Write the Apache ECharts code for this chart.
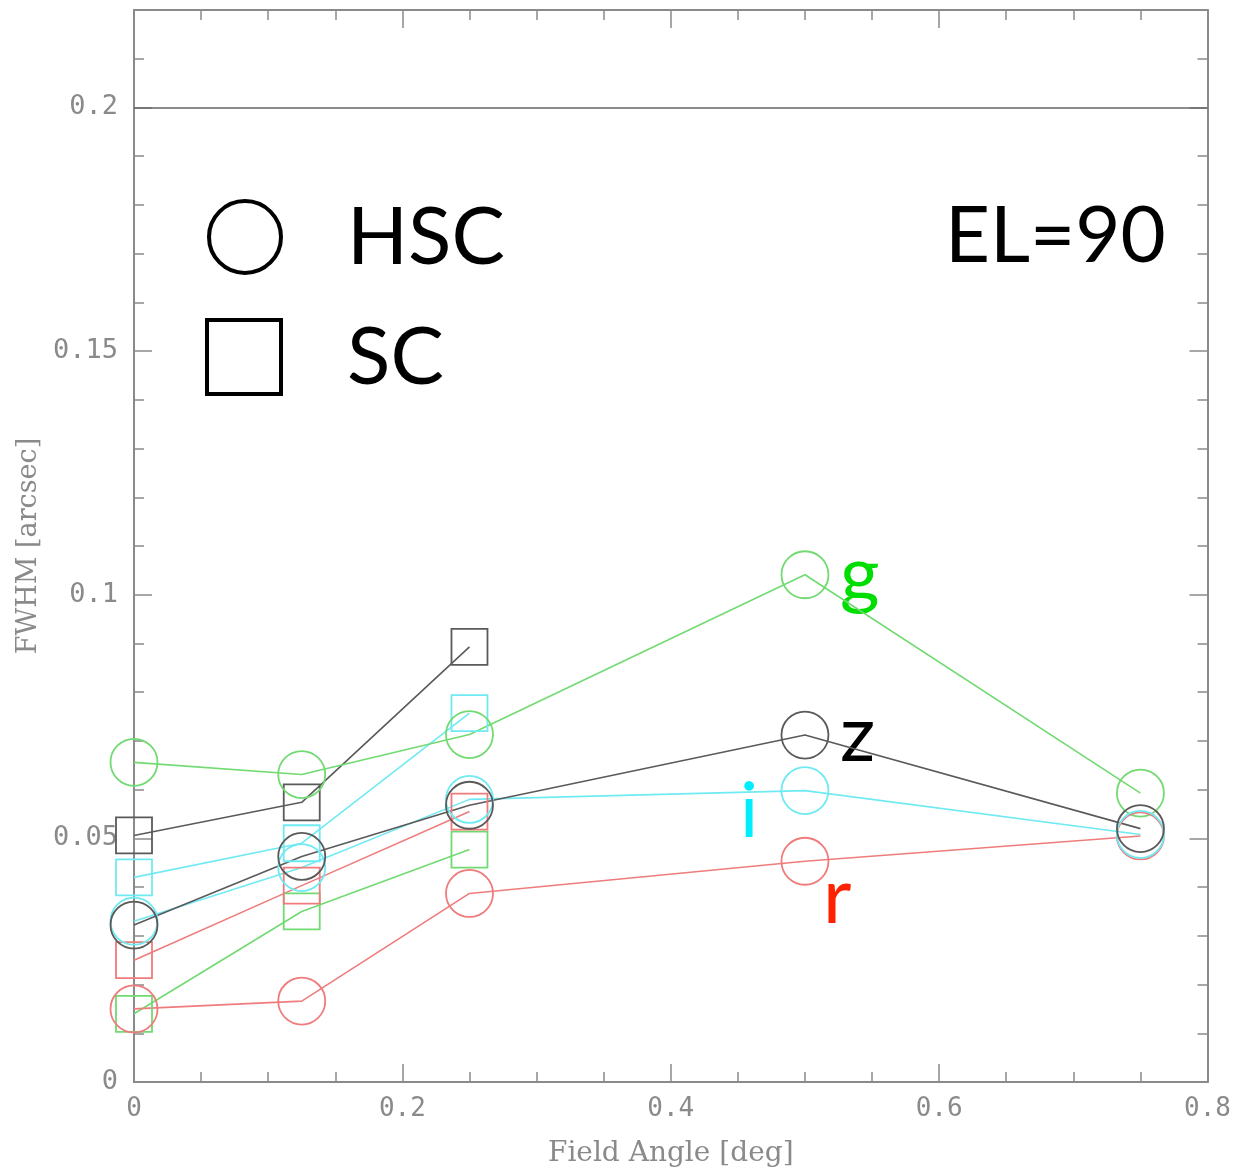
<!DOCTYPE html>
<html>
<head>
<meta charset="utf-8">
<script src="https://cdn.jsdelivr.net/npm/echarts@6/dist/echarts.min.js"></script>
<style>
html,body{margin:0;padding:0;background:#fff;}
#chart{width:1234px;height:1173px;}
</style>
</head>
<body>
<div id="chart"></div>
<script>
// ---- data ----
const angles = [0, 0.125, 0.25, 0.5, 0.75];
const scAngles = [0, 0.125, 0.25];
const hscG = [0.0656, 0.0631, 0.0713, 0.1041, 0.0593];
const hscR = [0.0150, 0.0166, 0.0387, 0.0453, 0.0505];
const hscI = [0.0330, 0.0440, 0.0580, 0.0598, 0.0508];
const hscZ = [0.0322, 0.0463, 0.0568, 0.0712, 0.0520];
const scG = [0.0140, 0.0350, 0.0477];
const scR = [0.0250, 0.0403, 0.0555];
const scI = [0.0420, 0.0490, 0.0757];
const scZ = [0.0506, 0.0574, 0.0893];
const refLevel = 0.2;
const xTicks = [0, 0.2, 0.4, 0.6, 0.8];
const yTicks = [0, 0.05, 0.1, 0.15, 0.2];

const colors = {g: '#72da72', r: '#ef7c7c', i: '#70eaf2', z: '#5a5a5a'};

function pairs(xs, ys) { return xs.map((x, k) => [x, ys[k]]); }

function mkSeries(name, xs, ys, color, symbol, size) {
  return {
    name: name, type: 'line', xAxisIndex: 0, yAxisIndex: 0,
    data: pairs(xs, ys),
    symbol: symbol, symbolSize: size, showAllSymbol: true,
    lineStyle: {color: color, width: 1.6},
    itemStyle: {color: 'rgba(0,0,0,0)', borderColor: color, borderWidth: 1.8},
    emphasis: {disabled: true}, z: 3
  };
}

const series = [
  mkSeries('SC g', scAngles, scG, colors.g, 'rect', 36),
  mkSeries('SC r', scAngles, scR, colors.r, 'rect', 36),
  mkSeries('SC i', scAngles, scI, colors.i, 'rect', 36),
  mkSeries('SC z', scAngles, scZ, colors.z, 'rect', 36),
  mkSeries('HSC g', angles, hscG, colors.g, 'circle', 47),
  mkSeries('HSC r', angles, hscR, colors.r, 'circle', 47),
  mkSeries('HSC i', angles, hscI, colors.i, 'circle', 47),
  mkSeries('HSC z', angles, hscZ, colors.z, 'circle', 47)
];
series[0].markLine = {
  silent: true, symbol: ['none', 'none'], label: {show: false},
  lineStyle: {color: '#666', width: 1.5, type: 'solid'},
  data: [{yAxis: refLevel}]
};

const axisGray = '#8a8a8a';
const labelGray = '#8a8a8a';
const tickFont = 'DejaVu Sans Mono';
function yAx(pos, interval, len, showLine, showLabel) {
  return {
    type: 'value', position: pos, min: 0, max: 0.22, interval: interval,
    axisLine: {show: showLine, onZero: false, lineStyle: {color: axisGray, width: 2}},
    axisTick: {show: true, inside: true, length: len, lineStyle: {color: axisGray, width: 1.5}},
    axisLabel: {show: showLabel, showMaxLabel: false, margin: 16, color: labelGray,
      fontFamily: tickFont, fontSize: 27,
      formatter: v => (yTicks.indexOf(Math.round(v*100)/100) >= 0 ? String(Math.round(v*100)/100) : '')},
    splitLine: {show: false}
  };
}
const yAxes = [
  yAx('left', 0.05, 18, true, true),
  yAx('left', 0.01, 10, false, false),
  yAx('right', 0.05, 18, true, false),
  yAx('right', 0.01, 10, false, false)
];
yAxes[0].name = 'FWHM [arcsec]';
yAxes[0].nameLocation = 'middle';
yAxes[0].nameGap = 90;
yAxes[0].nameTextStyle = {color: labelGray, fontFamily: 'DejaVu Serif', fontSize: 27};

function xAx(pos, showLabel) {
  return {
    type: 'value', position: pos, min: 0, max: 0.8, interval: 0.2,
    axisLine: {show: true, onZero: false, lineStyle: {color: axisGray, width: 2}},
    axisTick: {show: true, inside: true, length: 18, lineStyle: {color: axisGray, width: 1.5}},
    minorTick: {show: true, splitNumber: 4, length: 10, lineStyle: {color: axisGray, width: 1.5}},
    axisLabel: {show: showLabel, margin: 14, color: labelGray, fontFamily: tickFont, fontSize: 26,
      formatter: v => String(Math.round(v*10)/10)},
    splitLine: {show: false}
  };
}
const xAxes = [xAx('bottom', true), xAx('top', false)];
xAxes[0].name = 'Field Angle [deg]';
xAxes[0].nameLocation = 'middle';
xAxes[0].nameGap = 58;
xAxes[0].nameTextStyle = {color: labelGray, fontFamily: 'DejaVu Serif', fontSize: 28};

const graphic = [
  {type: 'circle', shape: {cx: 245, cy: 237, r: 36}, style: {fill: 'none', stroke: '#000', lineWidth: 4}},
  {type: 'rect', shape: {x: 207, y: 320, width: 74, height: 74}, style: {fill: 'none', stroke: '#000', lineWidth: 4}},
  {type: 'text', left: 347, top: 198, style: {text: 'HSC', fill: '#000', font: '80px Lato'}},
  {type: 'text', left: 347, top: 318, style: {text: 'SC', fill: '#000', font: '80px Lato'}},
  {type: 'text', left: 945, top: 198, style: {text: 'EL=90', fill: '#000', font: '78px Lato'}},
  {type: 'text', left: 840, top: 537, style: {text: 'g', fill: '#00dd00', font: '76px Lato'}},
  {type: 'text', left: 840, top: 697, style: {text: 'z', fill: '#000', font: '78px Lato'}},
  {type: 'text', left: 740, top: 774, style: {text: 'i', fill: '#00eeff', font: '76px Lato'}},
  {type: 'text', left: 823, top: 859, style: {text: 'r', fill: '#ff2200', font: '78px Lato'}}
];

const chart = echarts.init(document.getElementById('chart'), null, {renderer: 'canvas'});
chart.setOption({
  animation: false,
  backgroundColor: '#fff',
  grid: {left: 134, top: 10, right: 24, bottom: 90, containLabel: false},
  xAxis: xAxes,
  yAxis: yAxes,
  series: series,
  graphic: graphic
});
</script>
</body>
</html>
